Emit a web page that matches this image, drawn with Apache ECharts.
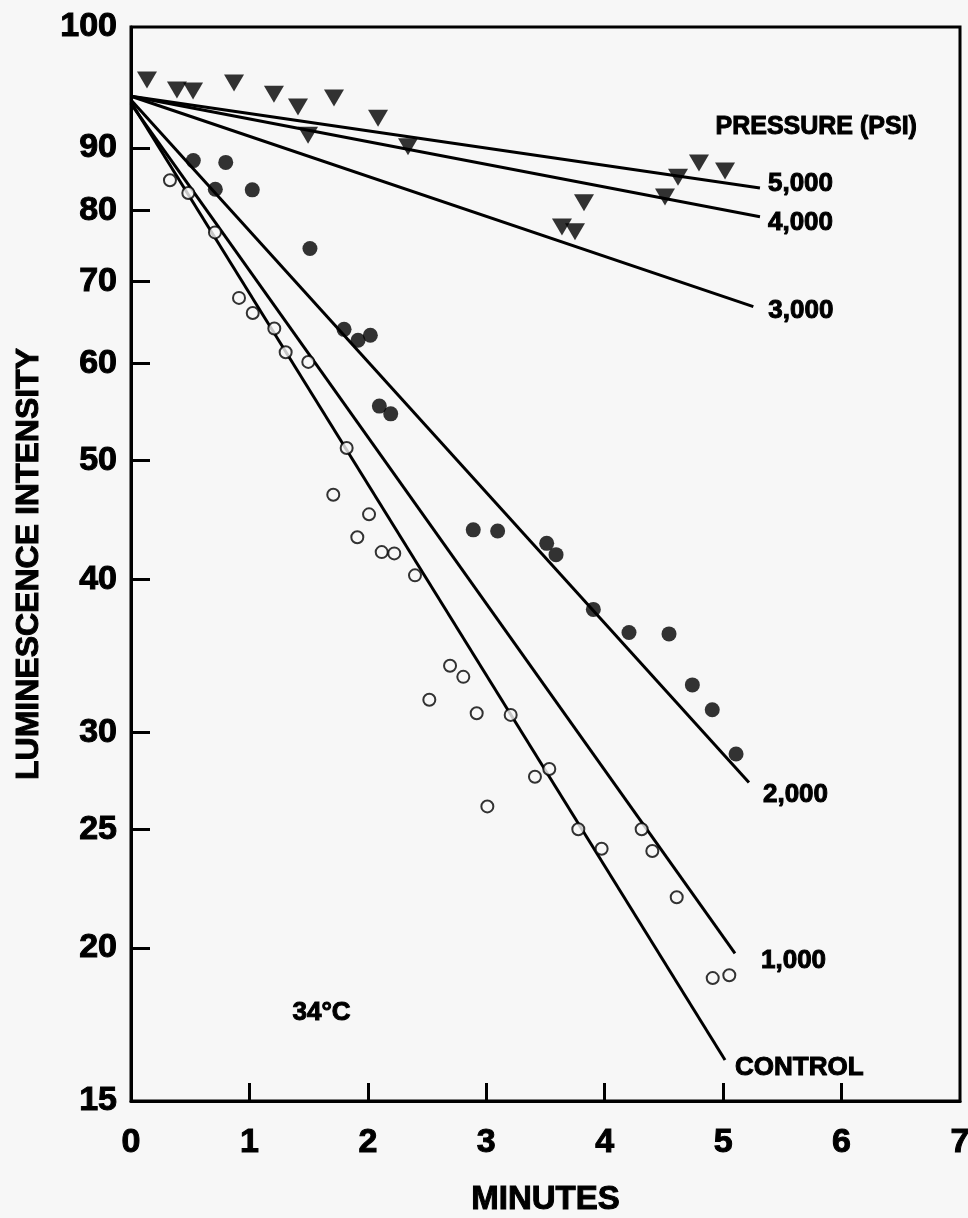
<!DOCTYPE html>
<html>
<head>
<meta charset="utf-8">
<title>Luminescence intensity vs. time under pressure</title>
<script src="https://cdn.jsdelivr.net/npm/echarts@6/dist/echarts.min.js"></script>
<style>
  html, body { margin: 0; padding: 0; background: #f7f7f7; }
  #chart { width: 968px; height: 1218px; }
</style>
</head>
<body>
<div id="chart"></div>
<script>
// Triangles: runs at 3,000 - 5,000 psi
const TRI_X = [0.135, 0.388, 0.524, 0.870, 1.207, 1.410, 1.714, 1.495, 2.086, 2.339,
               3.639, 3.749, 3.825, 4.509, 4.619, 4.796, 5.016];
const TRI_Y = [102.3, 100.4, 100.2, 101.7, 99.6, 97.2, 98.9, 92.2, 95.2, 90.2,
               77.6, 76.9, 81.2, 82.1, 85.2, 87.5, 86.2];

// Filled circles: 2,000 psi
const FILLED_X = [0.526, 0.800, 0.712, 1.024, 1.511, 1.799, 1.917, 2.021, 2.097, 2.193,
                  2.890, 3.096, 3.510, 3.589, 3.904, 4.205, 4.543, 4.740, 4.908, 5.109];
const FILLED_Y = [87.9, 87.6, 83.3, 83.2, 74.5, 64.0, 62.7, 63.3, 55.4, 54.6,
                  43.9, 43.8, 42.8, 41.9, 37.8, 36.2, 36.1, 32.8, 31.3, 28.8];

// Open circles: 1,000 psi and control
const OPEN_X = [0.329, 0.484, 0.709, 0.912, 1.028, 1.210, 1.306, 1.497, 1.821, 1.708,
                2.010, 1.911, 2.117, 2.223, 2.398, 2.694, 2.806, 2.519, 2.919, 3.206,
                3.411, 3.532, 3.009, 3.777, 3.974, 4.312, 4.402, 4.608, 4.912, 5.052];
const OPEN_Y = [84.7, 82.7, 76.8, 67.9, 66.0, 64.1, 61.3, 60.2, 51.2, 46.9,
                45.2, 43.3, 42.1, 42.0, 40.3, 34.0, 33.3, 31.9, 31.1, 31.0,
                27.6, 28.0, 26.1, 25.0, 24.1, 25.0, 24.0, 22.0, 18.9, 19.0];

// Fitted decay lines (start at t = 0, end at the given minute)
const FIT_NAMES   = ['5,000', '4,000', '3,000', '2,000', '1,000', 'CONTROL'];
const FIT_START_Y = [99.2, 99.2, 99.2, 98.5, 97.8, 98.1];
const FIT_END_X   = [5.311, 5.311, 5.255, 5.218, 5.100, 5.016];
const FIT_END_Y   = [83.5, 79.1, 66.8, 27.3, 19.8, 16.2];

// Axis ticks and labels
const X_LABELS = [0, 1, 2, 3, 4, 5, 6, 7];
const X_TICKS  = [1, 2, 3, 4, 5, 6];
const Y_TOP    = 113;   // top edge of the printed frame, marked "100"
const Y_LABELS = [15, 20, 25, 30, 40, 50, 60, 70, 80, 90, Y_TOP];
const Y_TICKS  = [20, 25, 30, 40, 50, 60, 70, 80, 90];

const FONT = "'Liberation Sans', Arial, sans-serif";
const INK = '#000';
const PAPER = '#f7f7f7';

// heavy print look for every text element
const heavy = (size) => ({
  color: INK, fontFamily: FONT, fontWeight: 'bold', fontSize: size,
  textBorderColor: INK, textBorderWidth: 1
});

const zip = (xs, ys) => xs.map((x, i) => [x, ys[i]]);

const LABEL_OFFSETS = [[8, -4], [8, 6], [15, 4], [14, 12], [26, 7], [10, 8]];

const lineSeries = FIT_NAMES.map((name, i) => ({
  name: name,
  type: 'line',
  data: [[0, FIT_START_Y[i]], [FIT_END_X[i], FIT_END_Y[i]]],
  symbol: 'none',
  silent: true,
  z: 2,
  lineStyle: { color: INK, width: 3 },
  endLabel: Object.assign({
    show: true,
    formatter: name,
    distance: 0,
    offset: LABEL_OFFSETS[i]
  }, heavy(26))
}));

const chart = echarts.init(document.getElementById('chart'), null, { renderer: 'canvas' });

chart.setOption({
  backgroundColor: PAPER,
  animation: false,
  grid: {
    left: 131, right: 8, top: 27, bottom: 117,
    outerBoundsMode: 'none',
    containLabel: false,
    show: true, borderColor: INK, borderWidth: 3, backgroundColor: 'transparent'
  },
  xAxis: {
    type: 'value',
    min: 0, max: 7,
    name: 'MINUTES',
    nameLocation: 'middle',
    nameGap: 82,
    nameTextStyle: heavy(33),
    axisLine: { show: true, lineStyle: { color: INK, width: 3 } },
    axisTick: { show: true, inside: true, length: 18, customValues: X_TICKS,
                lineStyle: { color: INK, width: 3 } },
    axisLabel: Object.assign({ customValues: X_LABELS, margin: 25 }, heavy(34)),
    splitLine: { show: false }
  },
  yAxis: {
    type: 'log',
    logBase: 10,
    min: 15, max: Y_TOP,
    name: 'LUMINESCENCE INTENSITY',
    nameLocation: 'middle',
    nameRotate: 90,
    nameGap: 86,
    nameTextStyle: heavy(32),
    axisLine: { show: true, lineStyle: { color: INK, width: 3 } },
    axisTick: { show: true, inside: true, length: 19, customValues: Y_TICKS,
                lineStyle: { color: INK, width: 3 } },
    axisLabel: Object.assign({
      customValues: Y_LABELS, margin: 14,
      formatter: v => (v >= Y_TOP - 1 ? '100' : String(Math.round(v)))
    }, heavy(34)),
    splitLine: { show: false }
  },
  series: [
    ...lineSeries,
    {
      name: 'triangles',
      type: 'scatter',
      data: zip(TRI_X, TRI_Y),
      symbol: 'triangle',
      symbolRotate: 180,
      symbolSize: [20, 17],
      z: 3,
      itemStyle: { color: INK }
    },
    {
      name: '2,000 psi',
      type: 'scatter',
      data: zip(FILLED_X, FILLED_Y),
      symbol: 'circle',
      symbolSize: 15,
      z: 3,
      itemStyle: { color: INK }
    },
    {
      name: '1,000 psi / control',
      type: 'scatter',
      data: zip(OPEN_X, OPEN_Y),
      symbol: 'circle',
      symbolSize: 12,
      z: 3,
      itemStyle: { color: PAPER, borderColor: INK, borderWidth: 2 }
    }
  ],
  graphic: [
    {
      type: 'text', left: 715, top: 114, z: 10,
      style: { text: 'PRESSURE (PSI)', fill: INK, stroke: INK, lineWidth: 1,
               font: "bold 25px " + FONT }
    },
    {
      type: 'text', left: 292, top: 999, z: 10,
      style: { text: '34\u00B0C', fill: INK, stroke: INK, lineWidth: 1,
               font: "bold 26px " + FONT }
    }
  ]
});
</script>
</body>
</html>
